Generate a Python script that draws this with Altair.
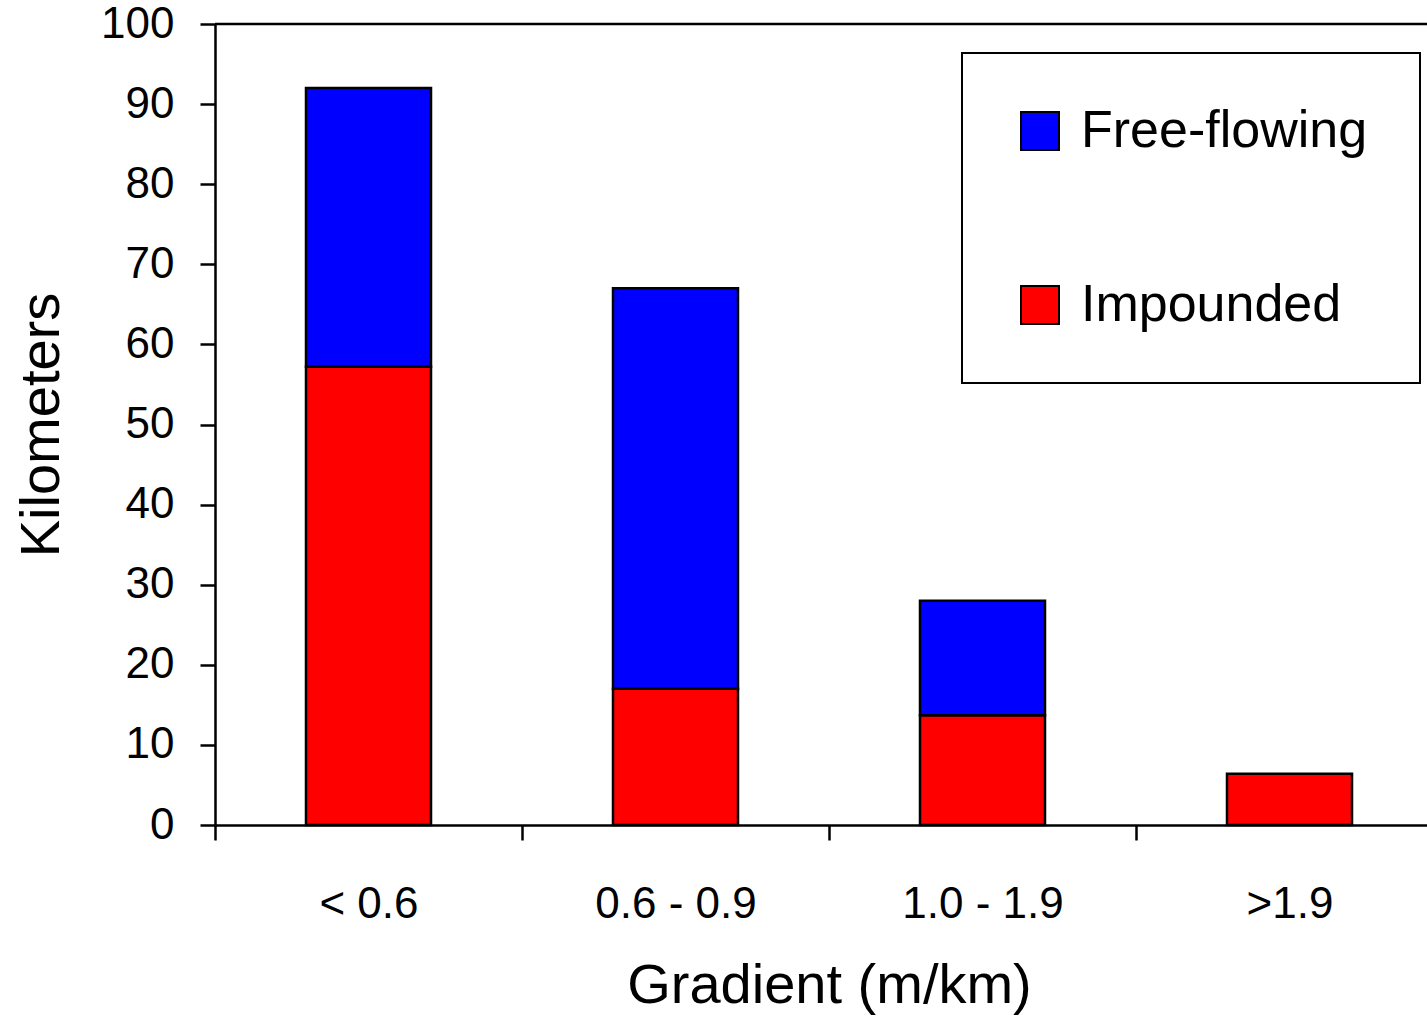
import altair as alt
import pandas as pd

categories = ["< 0.6", "0.6 - 0.9", "1.0 - 1.9", ">1.9"]
impounded = [57.2, 17.0, 13.7, 6.4]
free_flowing = [34.8, 50.0, 14.3, 0.0]
series = ["Free-flowing", "Impounded"]
colors = ["#0000FF", "#FF0000"]
y_ticks = list(range(0, 101, 10))

rows = []
for c, imp, ff in zip(categories, impounded, free_flowing):
    if imp > 0:
        rows.append({"cat": c, "series": "Impounded", "km": imp, "ord": 0})
    if ff > 0:
        rows.append({"cat": c, "series": "Free-flowing", "km": ff, "ord": 1})
df = pd.DataFrame(rows)

FONT = "Liberation Sans"

bars = alt.Chart(df).mark_bar(stroke="black", strokeWidth=2.5, width=125).encode(
    x=alt.X("cat:N", sort=categories,
            scale=alt.Scale(range=[0, 1228], paddingInner=0, paddingOuter=0),
            axis=alt.Axis(title="Gradient (m/km)", labelAngle=0, tickBand="extent",
                          tickSize=15, labelPadding=42, titlePadding=32,
                          labelFontSize=44, titleFontSize=56, domainWidth=2.5,
                          tickWidth=2.5, domainColor="black", tickColor="black",
                          labelColor="black", titleColor="black",
                          labelFont=FONT, titleFont=FONT, titleFontWeight="normal")),
    y=alt.Y("km:Q", stack="zero",
            scale=alt.Scale(domain=[0, 100], nice=False),
            axis=alt.Axis(title="Kilometers", values=y_ticks, tickSize=15,
                          labelPadding=26, titlePadding=30, grid=False,
                          labelFontSize=44, titleFontSize=56, domainWidth=2.5,
                          tickWidth=2.5, domainColor="black", tickColor="black",
                          labelColor="black", titleColor="black",
                          labelFont=FONT, titleFont=FONT, titleFontWeight="normal")),
    color=alt.Color("series:N",
                    scale=alt.Scale(domain=series, range=colors),
                    legend=alt.Legend(title=None, orient="none", legendX=747, legendY=29,
                                      padding=52, strokeColor="black",
                                      symbolType="square", symbolSize=1444,
                                      symbolStrokeColor="black", symbolStrokeWidth=2,
                                      symbolOpacity=1, labelFontSize=52, labelFont=FONT,
                                      labelColor="black", labelOffset=15,
                                      rowPadding=122, labelLimit=1000)),
    order=alt.Order("ord:Q"),
)

top_rule = alt.Chart(pd.DataFrame({"km": [100]})).mark_rule(
    color="black", strokeWidth=2.5
).encode(y="km:Q")

chart = alt.layer(bars, top_rule).properties(
    width=1212, height=801,
    autosize=alt.AutoSizeParams(type="none"),
    padding={"left": 215, "top": 24, "right": 0, "bottom": 199},
    background="white",
).configure_view(stroke=None).configure_legend(strokeWidth=2)

chart.save("out.html", embed_options={"renderer": "svg", "actions": False})
